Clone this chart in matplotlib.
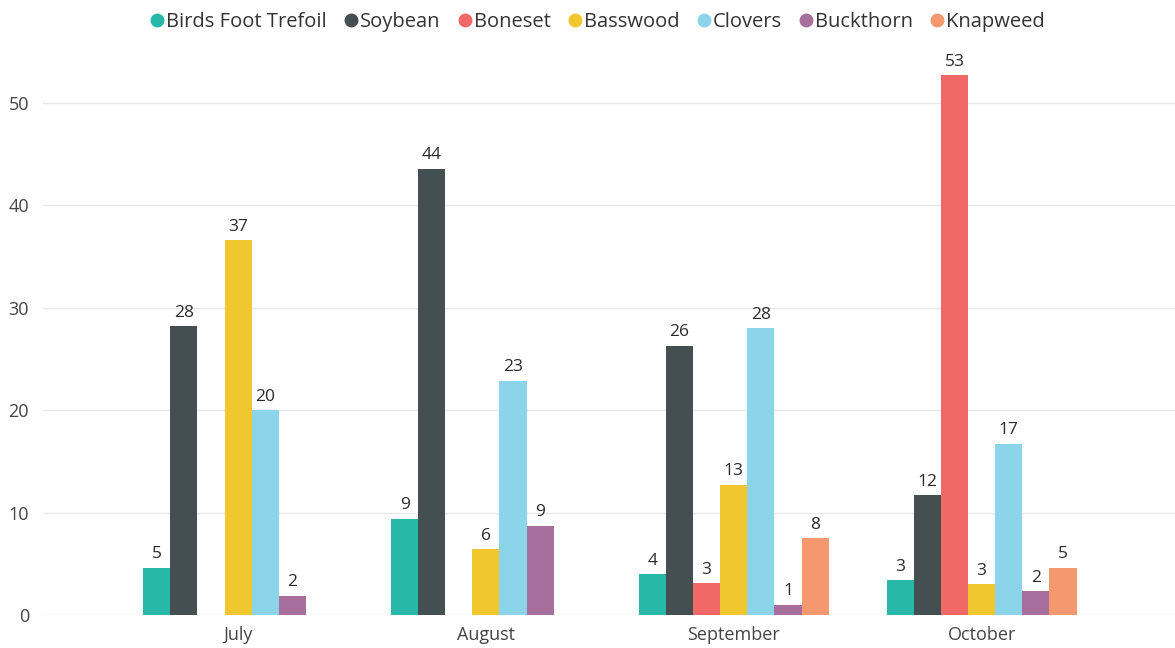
import numpy as np
import matplotlib.pyplot as plt
from matplotlib.lines import Line2D

plt.rcParams['font.family'] = ['Open Sans', 'DejaVu Sans']

months = ['July', 'August', 'September', 'October']
series = ['Birds Foot Trefoil', 'Soybean', 'Boneset', 'Basswood',
          'Clovers', 'Buckthorn', 'Knapweed']
colors = ['#28B8A9', '#434F50', '#F06966', '#F0C72F',
          '#8CD4EA', '#A66F9C', '#F4986F']

# values per series, one per month (nan = no bar)
birds_foot_trefoil = [4.6, 9.4, 4.0, 3.4]
soybean = [28.2, 43.6, 26.3, 11.7]
boneset = [np.nan, np.nan, 3.1, 52.7]
basswood = [36.6, 6.4, 12.7, 3.0]
clovers = [20.0, 22.9, 28.0, 16.7]
buckthorn = [1.9, 8.7, 1.0, 2.3]
knapweed = [np.nan, np.nan, 7.5, 4.6]

values = [birds_foot_trefoil, soybean, boneset, basswood,
          clovers, buckthorn, knapweed]

fig = plt.figure(figsize=(11.75, 6.48), dpi=100)
ax = fig.add_axes([0.0366, 0.0509, 0.9634, 0.869])

x = np.arange(len(months))
width = 0.1094
n = len(series)

for i, (name, vals, col) in enumerate(zip(series, values, colors)):
    pos = x + (i - (n - 1) / 2) * width
    vals = np.array(vals, dtype=float)
    ax.bar(pos, np.nan_to_num(vals), width=width, color=col, zorder=3)
    for p, v in zip(pos, vals):
        if np.isnan(v):
            continue
        ax.annotate(f'{v:.0f}', (p, v), xytext=(0, 4), textcoords='offset points',
                    ha='center', va='bottom', fontsize=12.5, color='#2A2A2A')

ax.set_xlim(-0.787, 3.78)
ax.set_ylim(0, 55)
ax.set_yticks([0, 10, 20, 30, 40, 50])
ax.set_xticks(x)
ax.set_xticklabels(months)
ax.grid(axis='y', color='#E8E8E8', linewidth=1, zorder=0)
ax.tick_params(axis='both', length=0, labelsize=13, colors='#444444')
ax.tick_params(axis='y', pad=10)
ax.tick_params(axis='x', pad=8)
for s in ax.spines.values():
    s.set_visible(False)

handles = [Line2D([0], [0], marker='o', linestyle='', markersize=9,
                  markerfacecolor=c, markeredgecolor=c) for c in colors]
fig.legend(handles, series, loc='upper center', bbox_to_anchor=(0.505, 1.01),
           ncol=7, frameon=False, fontsize=14.5, handletextpad=-0.3,
           columnspacing=0.45, handlelength=1.5, labelcolor='#333333')

fig.savefig('out.png', dpi=100)
